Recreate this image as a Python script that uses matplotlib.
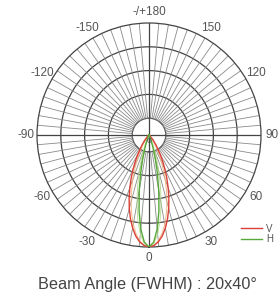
import numpy as np
import matplotlib
matplotlib.use("Agg")
import matplotlib.pyplot as plt

plt.rcParams['font.family'] = ['Liberation Sans', 'DejaVu Sans']

# beam data (angle in degrees, relative intensity)
half_angles = [0, 2.5, 5, 7.5, 10, 12.5, 15, 17.5, 20, 22.5, 25, 27.5, 30, 35, 40, 50, 60, 90]
v_half = [1.0, 0.989, 0.958, 0.909, 0.843, 0.766, 0.680, 0.590, 0.500, 0.415,
          0.335, 0.264, 0.202, 0.109, 0.052, 0.010, 0.0, 0.0]
h_half = [1.0, 0.958, 0.842, 0.680, 0.500, 0.341, 0.211, 0.119, 0.061, 0.030,
          0.012, 0.005, 0.002, 0.0, 0.0, 0.0, 0.0, 0.0]
# faint second planes
v2_half = [1.0, 0.987, 0.949, 0.888, 0.810, 0.718, 0.620, 0.520, 0.424, 0.335,
           0.257, 0.191, 0.137, 0.064, 0.025, 0.002, 0.0, 0.0]
h2_half = [1.0, 0.971, 0.887, 0.764, 0.619, 0.472, 0.338, 0.227, 0.143, 0.085,
           0.046, 0.024, 0.011, 0.0, 0.0, 0.0, 0.0, 0.0]

tick_angles = [180, 150, 120, 90, 60, 30, 0, -30, -60, -90, -120, -150]
tick_labels = ['-/+180', '150', '120', '90', '60', '30', '0', '-30', '-60', '-90', '-120', '-150']
ring_r = [0.15, 0.3625, 0.575, 0.7875, 1.0]


def full(half):
    a = np.array(half_angles)
    v = np.array(half)
    return np.concatenate([-a[::-1], a[1:]]), np.concatenate([v[::-1], v[1:]])


fig = plt.figure(figsize=(2.79, 2.97), dpi=100)
ax = fig.add_axes([37 / 279, 50 / 297, 224 / 279, 224 / 297], projection='polar')
ax.set_theta_zero_location('S')
ax.set_ylim(0, 1)
ax.grid(False)
ax.set_xticks([])
ax.set_yticks([])
ax.spines['polar'].set_color('#444444')
ax.spines['polar'].set_linewidth(0.9)

t = np.linspace(0, 2 * np.pi, 361)
for r in ring_r[:-1]:
    ax.plot(t, np.full_like(t, r), color='#444444', lw=0.9, zorder=1)

for d in range(0, 360, 5):
    th = np.deg2rad(d)
    r0 = 0 if d % 90 == 0 else ring_r[0]
    col = '#444444' if d % 90 == 0 else '#8a8a8a'
    ax.plot([th, th], [r0, 1], color=col, lw=0.6 if d % 90 else 0.9, zorder=1)

a, v = full(v2_half)
ax.plot(np.deg2rad(a), v, color='#f2b27a', lw=0.8, alpha=0.8, zorder=2)
a, v = full(h2_half)
ax.plot(np.deg2rad(a), v, color='#b5db8c', lw=0.8, alpha=0.8, zorder=2)
a, v = full(v_half)
lv, = ax.plot(np.deg2rad(a), v, color='#d9403a', lw=1.0, zorder=3, label='V')
a, v = full(h_half)
lh, = ax.plot(np.deg2rad(a), v, color='#58a83a', lw=1.0, zorder=3, label='H')

ax.text(0, 0.06, '0', ha='center', va='center', fontsize=6, color='#555555', zorder=4)

for ang, lab in zip(tick_angles, tick_labels):
    ax.text(np.deg2rad(ang), 1.1, lab, ha='center', va='center', fontsize=8.5,
            color='#555555', clip_on=False)

fig.legend(handles=[lv, lh], loc='center left', bbox_to_anchor=(232 / 279, 1 - 234 / 297),
           frameon=False, fontsize=7, handlelength=2.2, handletextpad=0.4,
           labelspacing=0.1, labelcolor='#555555')

fig.text(0.529, 1 - 285 / 297, 'Beam Angle (FWHM) : 20x40°', ha='center', va='center',
         fontsize=11.7, color='#444444')

fig.savefig('out.png', dpi=100)
